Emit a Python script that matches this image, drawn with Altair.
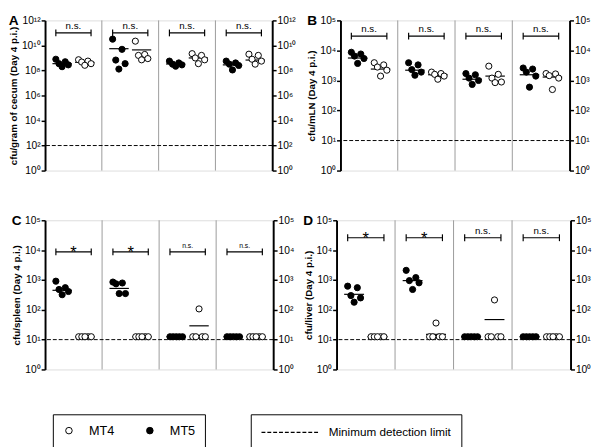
import altair as alt
import pandas as pd

GROUPS = ["iNOS⁻/⁻", "IL-10⁻/⁻", "CD40L⁻/⁻", "C57BL/6"]
EXP_LABELS = ["10⁰", "10¹", "10²", "10³", "10⁴", "10⁵", "10⁶", "10⁷", "10⁸", "10⁹",
              "10¹⁰", "10¹¹", "10¹²"]

# ---------------- Panel A: cecum ----------------
A_mt5 = [[7.9e8, 5.0e8, 3.5e8, 2.8e8, 2.0e8],
         [3.2e10, 4.9e9, 6.8e8, 3.5e8, 1.3e8],
         [5.6e8, 4.0e8, 3.2e8, 2.8e8, 2.2e8],
         [5.6e8, 4.0e8, 3.2e8, 2.5e8, 1.1e8]]
A_mt4 = [[7.2e8, 5.6e8, 4.7e8, 3.5e8, 2.6e8],
         [2.2e10, 1.9e9, 1.6e9, 8.9e8, 7.1e8],
         [2.2e9, 1.6e9, 1.0e9, 7.1e8, 3.5e8],
         [2.0e9, 1.6e9, 7.9e8, 5.6e8, 3.2e8]]
A_mean5 = [3.5e8, 5.5e9, 3.3e8, 2.8e8]
A_mean4 = [4.4e8, 4.4e9, 1.0e9, 6.8e8]
A_sig = ["n.s.", "n.s.", "n.s.", "n.s."]

# ---------------- Panel B: mLN ----------------
B_mt5 = [[8700, 7600, 6500, 5400, 3700],
         [3900, 3300, 2300, 1900, 1500],
         [1700, 1550, 1200, 1000, 740],
         [2600, 2400, 1900, 1400, 600]]
B_mt4 = [[3900, 3300, 2800, 2200, 1400],
         [1900, 1700, 1600, 1400, 1100],
         [3000, 1600, 1200, 890, 850],
         [1700, 1650, 1450, 1200, 500]]
B_mean5 = [5600, 2200, 1100, 1550]
B_mean4 = [2400, 1550, 1400, 1300]
B_sig = ["n.s.", "n.s.", "n.s.", "n.s."]

# ---------------- Panel C: spleen ----------------
C_mt5 = [[910, 550, 480, 410, 320],
         [850, 790, 740, 350, 350],
         [12.5, 12.5, 12.5, 12.5, 12.5],
         [12.5, 12.5, 12.5, 12.5, 12.5]]
C_mt4 = [[12.5, 12.5, 12.5, 12.5, 12.5],
         [12.5, 12.5, 12.5, 12.5, 12.5],
         [12.5, 12.5, 12.5, 12.5, 107],
         [12.5, 12.5, 12.5, 12.5, 12.5]]
C_mean5 = [450, 520, 12.5, 12.5]
C_mean4 = [12.5, 12.5, 29, 12.5]
C_sig = ["*", "*", "n.s.", "n.s."]

# ---------------- Panel D: liver ----------------
D_mt5 = [[620, 550, 300, 250, 180],
         [2100, 1200, 950, 800, 480],
         [12.5, 12.5, 12.5, 12.5, 12.5],
         [12.5, 12.5, 12.5, 12.5, 12.5]]
D_mt4 = [[12.5, 12.5, 12.5, 12.5, 12.5],
         [12.5, 12.5, 12.5, 12.5, 36],
         [12.5, 12.5, 12.5, 12.5, 214],
         [12.5, 12.5, 12.5, 12.5, 12.5]]
D_mean5 = [330, 950, 12.5, 12.5]
D_mean4 = [12.5, 15, 47, 12.5]
D_sig = ["*", "*", "n.s.", "n.s."]

FONT = "Liberation Sans"

fill_legend = alt.Legend(title=None, orient="none", legendX=8, legendY=404,
                         direction="horizontal", strokeColor="black", fillColor="white",
                         padding=10, symbolType="circle", symbolSize=45,
                         symbolStrokeColor="black", symbolStrokeWidth=1,
                         labelFontSize=13, labelOffset=14, columnPadding=30,
                         labelFont=FONT, labelColor="black")
dash_legend = alt.Legend(title=None, orient="none", legendX=211, legendY=404,
                         strokeColor="black", fillColor="white", padding=10,
                         symbolType="M-1,0H7", symbolSize=225,
                         symbolStrokeColor="black", symbolStrokeWidth=1.2,
                         labelFontSize=12, labelOffset=53, labelFont=FONT,
                         labelColor="black",
                         labelExpr="datum.label + '" + "\u00a0" * 20 + "'")


def panel(letter, ytitle, mt5, mt4, mean5, mean4, sig, bracket_y, limit, top_exp,
          ns_size, w, h):
    rows = []
    for g in range(4):
        for strain, vals in (("MT5", mt5[g]), ("MT4", mt4[g])):
            for r, v in enumerate(vals):
                rows.append({"g": g, "strain": strain, "rep": r, "cfu": v})
    pts = pd.DataFrame(rows)
    means = pd.DataFrame([{"g": g, "strain": s, "cfu": m}
                          for g in range(4)
                          for s, m in (("MT5", mean5[g]), ("MT4", mean4[g]))])
    sigdf = pd.DataFrame({"g": list(range(4)), "label": sig, "cfu": [bracket_y] * 4})
    sep = pd.DataFrame({"xb": [2, 4, 6]})
    lim = pd.DataFrame({"cfu": [limit], "what": ["Minimum detection limit"]})

    yvals = [10 ** k for k in range(0, top_exp + 1, 2 if top_exp > 6 else 1)]
    ylab = "[" + ",".join("'%s'" % s for s in EXP_LABELS) + "][round(log(datum.value)/LN10)]"
    xlab = "[" + ",".join("'%s'" % s for s in GROUPS) + "][round((datum.value-1)/2)]"

    ys = alt.Scale(type="log", domain=[1, 10 ** top_exp], nice=False)
    xs = alt.Scale(domain=[0, 8], nice=False, zero=False)

    ax_common = dict(values=yvals, labelExpr=ylab, domainWidth=2, domainColor="black",
                     tickSize=4, tickWidth=1.5, tickColor="black", labelFontSize=10.5,
                     labelColor="black", labelFont=FONT, labelPadding=1, grid=False)
    left_axis = alt.Axis(orient="left", titleFontSize=10, titleFontWeight="bold",
                         titleFont=FONT, titleColor="black", titlePadding=3, **ax_common)
    right_axis = alt.Axis(orient="right", **ax_common)
    x_axis = alt.Axis(values=[1, 3, 5, 7], labelExpr=xlab, ticks=False, domainWidth=2,
                      domainColor="black", labelFontSize=10, labelColor="black",
                      labelFont=FONT, labelPadding=7, grid=False, labelAngle=0)

    base_x = "datum.g*2 + (datum.strain=='MT5' ? 0.6 : 1.4)"

    seps = alt.Chart(sep).mark_rule(color="#9a9a9a", strokeWidth=1).encode(
        x=alt.X("xb:Q", scale=xs, axis=None))

    limit_rule = alt.Chart(lim).mark_rule(color="black", strokeWidth=1).encode(
        y=alt.Y("cfu:Q", scale=ys, axis=right_axis, title=None),
        strokeDash=alt.StrokeDash("what:N",
                                  scale=alt.Scale(domain=["Minimum detection limit"],
                                                  range=[[4, 2]]),
                                  legend=dash_legend))

    mean_lines = alt.Chart(means).transform_calculate(
        x1=base_x + " - 0.34", x2=base_x + " + 0.34"
    ).mark_rule(color="black", strokeWidth=1.2).encode(
        x=alt.X("x1:Q", scale=xs, axis=None), x2="x2:Q",
        y=alt.Y("cfu:Q", scale=ys, axis=None))

    br = alt.Chart(sigdf).transform_calculate(
        x1="datum.g*2 + 0.38", x2="datum.g*2 + 1.62", xc="datum.g*2 + 1")
    br_line = br.mark_rule(color="black", strokeWidth=1.2).encode(
        x=alt.X("x1:Q", scale=xs, axis=None), x2="x2:Q",
        y=alt.Y("cfu:Q", scale=ys, axis=None))
    br_t1 = br.mark_tick(orient="vertical", size=7, thickness=1.2, color="black",
                         opacity=1).encode(
        x=alt.X("x1:Q", scale=xs, axis=None), y=alt.Y("cfu:Q", scale=ys, axis=None))
    br_t2 = br.mark_tick(orient="vertical", size=7, thickness=1.2, color="black",
                         opacity=1).encode(
        x=alt.X("x2:Q", scale=xs, axis=None), y=alt.Y("cfu:Q", scale=ys, axis=None))
    ns_text = br.transform_filter("datum.label != '*'").mark_text(
        fontSize=ns_size, dy=-4, baseline="alphabetic", font=FONT, color="black").encode(
        x=alt.X("xc:Q", scale=xs, axis=None), y=alt.Y("cfu:Q", scale=ys, axis=None),
        text="label:N")
    star_text = br.transform_filter("datum.label == '*'").mark_text(
        fontSize=17, dy=6, baseline="alphabetic", font=FONT, color="black").encode(
        x=alt.X("xc:Q", scale=xs, axis=None), y=alt.Y("cfu:Q", scale=ys, axis=None),
        text="label:N")

    points = alt.Chart(pts).transform_calculate(
        xp=base_x + " + ((datum.rep*3)%5 - 2)*0.11"
    ).mark_point(filled=True, size=40, stroke="black", strokeWidth=1, opacity=1).encode(
        x=alt.X("xp:Q", scale=xs, axis=x_axis, title=None),
        y=alt.Y("cfu:Q", scale=ys, axis=left_axis, title=ytitle),
        fill=alt.Fill("strain:N", scale=alt.Scale(domain=["MT4", "MT5"],
                                                  range=["white", "black"]),
                      legend=fill_legend))

    return alt.layer(seps, limit_rule, mean_lines, br_line, br_t1, br_t2, ns_text,
                     star_text, points).resolve_axis(y="independent").properties(
        width=w, height=h,
        title=alt.TitleParams(letter, anchor="start", fontSize=14, fontWeight="bold",
                              font=FONT, color="black", offset=-13))


pA = panel("A", "cfu/gram of cecum (Day 4 p.i.)", A_mt5, A_mt4, A_mean5, A_mean4, A_sig,
           1e11, 100, 12, 10, 233, 154)
pB = panel("B", "cfu/mLN (Day 4 p.i.)", B_mt5, B_mt4, B_mean5, B_mean4, B_sig,
           3.0e4, 10, 5, 10, 235, 154)
pC = panel("C", "cfu/spleen (Day 4 p.i.)", C_mt5, C_mt4, C_mean5, C_mean4, C_sig,
           8.7e3, 10, 5, 7, 234, 153)
pD = panel("D", "cfu/liver (Day 4 p.i.)", D_mt5, D_mt4, D_mean5, D_mean4, D_sig,
           2.6e4, 10, 5, 10, 240, 153)

chart = alt.vconcat(
    alt.hconcat(pA, pB, spacing=10),
    alt.hconcat(pC, pD, spacing=8),
    spacing=38,
).properties(padding={"left": 0, "top": 0, "right": 0, "bottom": 0}).configure_view(
    stroke=None).configure(font=FONT)

chart.save("out.html", embed_options={"renderer": "svg", "actions": False})
